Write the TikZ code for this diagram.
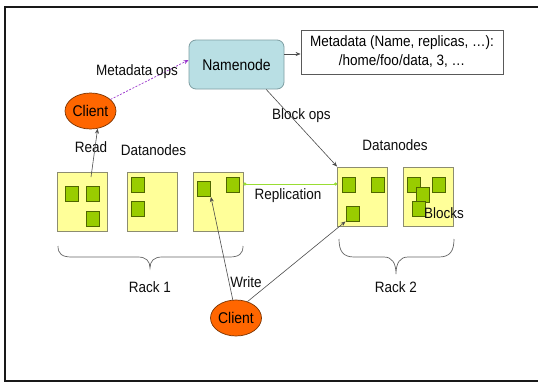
\documentclass[tikz,border=0pt]{standalone}
\usepackage{fontspec}
\setmainfont[FakeStretch=0.9]{Liberation Sans}
\usetikzlibrary{shapes.geometric,arrows.meta,calc}
\definecolor{dnfill}{HTML}{FFFF99}
\definecolor{dnline}{HTML}{8C8C70}
\definecolor{blkfill}{HTML}{99CC00}
\definecolor{blkline}{HTML}{4F6600}
\definecolor{nnfill}{HTML}{B9DFE4}
\definecolor{nnline}{HTML}{7F9FA3}
\definecolor{clfill}{HTML}{FF6600}
\definecolor{clline}{HTML}{7A3300}
\definecolor{metapurple}{HTML}{9933CC}
\definecolor{replgreen}{HTML}{99DD33}
\tikzset{
  lbl/.style={font=\fontsize{15}{18}\selectfont, inner sep=0pt, text=black!95},
  dnbox/.style={draw=dnline, fill=dnfill, line width=0.8pt, minimum width=50pt, minimum height=59pt, inner sep=0pt},
  blk/.style={draw=blkline, fill=blkfill, line width=0.8pt, minimum width=13pt, minimum height=15pt, inner sep=0pt},
  clientnode/.style={ellipse, draw=clline, fill=clfill, line width=0.7pt, minimum width=51pt, minimum height=36pt, inner sep=0pt, font=\fontsize{15.5}{18}\selectfont},
  conn/.style={draw=black!70, line width=0.6pt, -{Stealth[length=5pt,width=4pt]}},
  rackbrace/.style={draw=black!60, line width=0.7pt},
}
\begin{document}
\begin{tikzpicture}[x=1pt,y=-1pt]
\useasboundingbox (0,0) rectangle (538,383);
\fill[white] (0,0) rectangle (538,383);
% frame
\draw[line width=2.6pt, black!90] (545,7) -- (5,7) -- (5,381) -- (545,381);

% namenode and metadata
\node[draw=nnline, fill=nnfill, rounded corners=7pt, line width=0.8pt, minimum width=95pt, minimum height=49pt, font=\fontsize{15.5}{18}\selectfont] (nn) at (236.5,64.5) {Namenode};
\node[draw=black!65, line width=0.8pt, minimum width=202pt, minimum height=44pt, align=center, font=\fontsize{15}{19}\selectfont, inner sep=0pt] (meta) at (402,52) {Metadata (Name, replicas, \dots):\\/home/foo/data, 3, \dots};
\draw[conn] (nn.east |- 0,54) coordinate (nnE) -- (meta.west |- nnE);

% client 1
\node[clientnode] (c1) at (90.5,111) {Client};
\draw[metapurple, line width=0.7pt, dash pattern=on 2pt off 1.5pt, -{Stealth[length=5pt,width=4pt]}] (c1.30) -- (nn.west |- 0,60);
\node[lbl] (lmeta) at (137,72) {Metadata ops};

% rack 1 datanodes
\node[lbl] (ldn1) at (153.5,150) {Datanodes};
\node[dnbox] (r1a) at (82,201.5) {};
\node[dnbox] (r1b) at (152.5,201.5) {};
\node[dnbox] (r1c) at (218,201.5) {};
\node[blk] (b1a) at (72,194) {};
\node[blk] (b1b) at (92.5,194) {};
\node[blk] (b1c) at (92.5,218.5) {};
\node[blk] (b2a) at (138,184.5) {};
\node[blk] (b2b) at (138,208.5) {};
\node[blk] (b3a) at (204,189) {};
\node[blk] (b3b) at (233,184.5) {};

% read
\coordinate (rs) at (91,177);
\node[lbl] (lread) at (91,147) {Read};
\draw[conn] (rs) -- (c1.-68);

% rack 2 datanodes
\node[lbl] (ldn2) at (395,145) {Datanodes};
\node[dnbox] (r2a) at (362.5,196.5) {};
\node[dnbox] (r2b) at (428.5,196.5) {};
\node[blk] (c1a) at (348.5,184.5) {};
\node[blk] (c1b) at (377.5,184.5) {};
\node[blk] (c1c) at (352.5,213.5) {};
\node[blk] (c2a) at (413.5,184.5) {};
\node[blk] (c2b) at (439,184.5) {};
\node[blk] (c2c) at (422.5,194.5) {};
\node[blk] (c2d) at (418.5,208.5) {};
\node[lbl, anchor=west] (lblocks) at (424,213) {Blocks};

% block ops
\draw[conn] (nn.-40) -- (r2a.north west);
\node[lbl] (lbo) at (301.5,116) {Block ops};

% replication
\draw[replgreen, line width=0.8pt, {Circle[length=3pt]}-{Circle[length=3pt]}] (r1c.east |- 0,184) coordinate (rpl) -- (r2a.west |- rpl);
\node[lbl] (lrep) at (288,196) {Replication};

% braces
\draw[rackbrace] (58,246) .. controls (58,254) and (62,257) .. (72,257) -- (138,257)
  .. controls (146,257) and (150,261) .. (150,268)
  .. controls (150,261) and (154,257) .. (162,257) -- (229,257)
  .. controls (239,257) and (243,254) .. (243,246);
\node[lbl] (lr1) at (150,287) {Rack 1};
\draw[rackbrace] (339,239) .. controls (339,251) and (343,257) .. (354,257) -- (384,257)
  .. controls (392,257) and (396,263) .. (396,274)
  .. controls (396,263) and (400,257) .. (408,257) -- (439,257)
  .. controls (450,257) and (454,251) .. (454,239);
\node[lbl] (lr2) at (396,287) {Rack 2};

% client 2 and write
\node[clientnode] (c2) at (236,318) {Client};
\node[lbl] (lwrite) at (246,282) {Write};
\draw[conn] (c2.100) -- (b3a.south east);
\draw[conn] (c2.55) -- (c1c.south west);
\end{tikzpicture}
\end{document}
